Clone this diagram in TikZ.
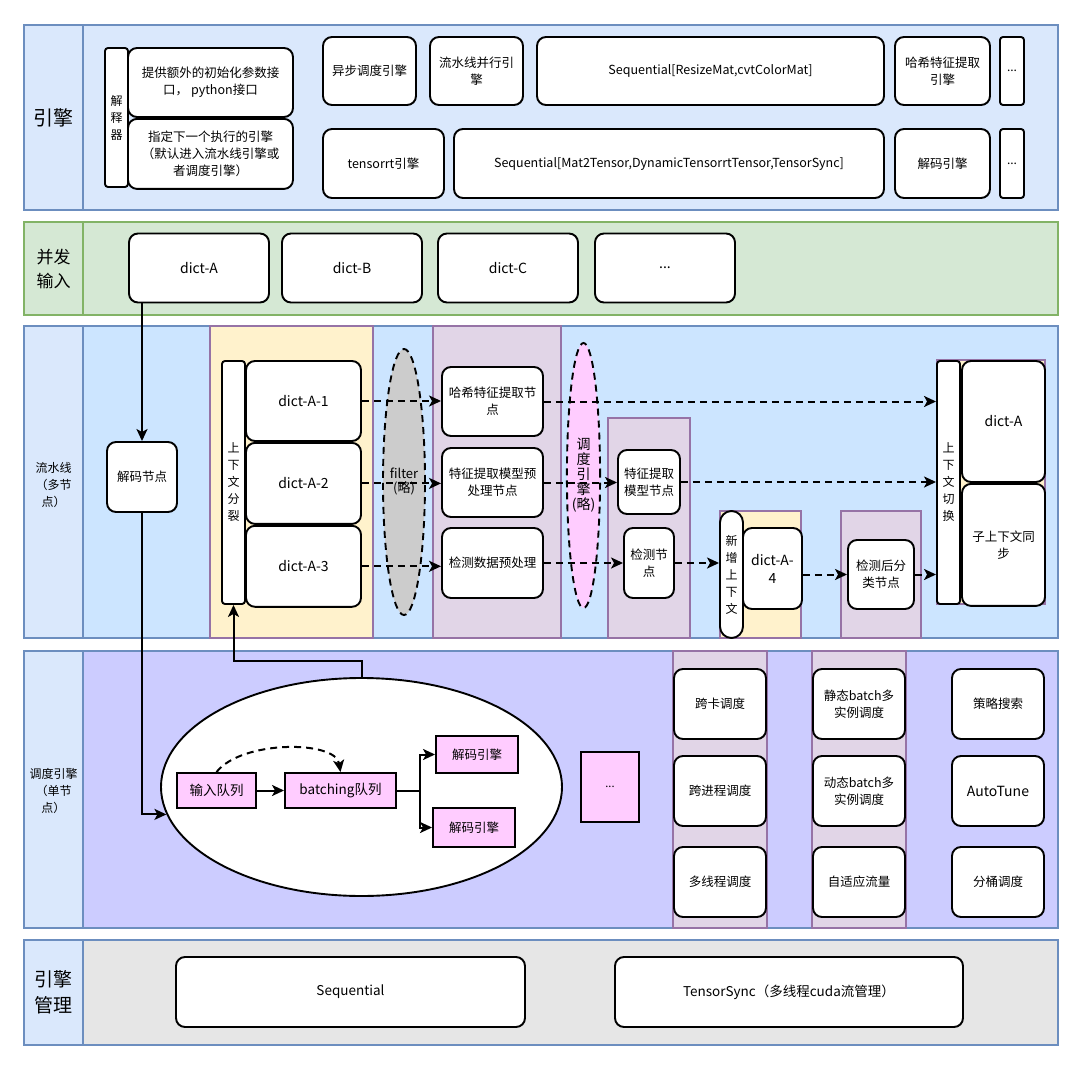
\documentclass[tikz,border=0pt]{standalone}
\usepackage{fontspec}
\setmainfont{Noto Sans CJK SC}
\usetikzlibrary{arrows.meta, positioning, shapes.geometric}

\definecolor{laneblue}{HTML}{DAE8FC}
\definecolor{laneline}{HTML}{6C8EBF}
\definecolor{lanegreen}{HTML}{D5E8D4}
\definecolor{greenline}{HTML}{82B366}
\definecolor{pipeblue}{HTML}{CCE5FF}
\definecolor{schedviolet}{HTML}{CCCCFF}
\definecolor{mgrgray}{HTML}{E6E6E6}
\definecolor{ctxyellow}{HTML}{FFF2CC}
\definecolor{grpviolet}{HTML}{E1D5E7}
\definecolor{grpline}{HTML}{9673A6}
\definecolor{queuepink}{HTML}{FFCCFF}

\tikzset{
    lane/.style={
        draw=laneline,
        line width=1.8pt
    },
    group/.style={
        draw=grpline,
        line width=1.8pt
    },
    lanelabel/.style={
        align=center,
        inner sep=0pt
    },
    box/.style={
        rectangle,
        draw=black,
        line width=1.9pt,
        fill=white,
        rounded corners=9pt,
        align=center,
        inner sep=1pt,
        font=\fontsize{12.5}{17}\selectfont
    },
    bar/.style={
        box,
        rounded corners=3pt,
        minimum width=23pt,
        font=\fontsize{12}{17}\selectfont
    },
    dictbox/.style={
        box,
        font=\fontsize{14}{18}\selectfont
    },
    queue/.style={
        rectangle,
        draw=black,
        line width=1.9pt,
        fill=queuepink,
        align=center,
        inner sep=1pt,
        font=\fontsize{13.5}{17}\selectfont
    },
    blob/.style={
        ellipse,
        draw=black,
        line width=1.9pt,
        align=center,
        inner sep=0pt
    },
    dashy/.style={dash pattern=on 7pt off 5pt},
    arrow/.style={-{Stealth[length=12pt, width=11pt, inset=3pt]}, line width=2pt},
    dashedarrow/.style={arrow, dashy}
}

\begin{document}
\begin{tikzpicture}[x=1pt, y=-1pt]
\useasboundingbox (0,0) rectangle (1080,1068);

% lanes
\draw[lane, fill=laneblue] (24,25) rectangle (1058,210);
\draw[lane] (83,25) -- (83,210);
\draw[lane, draw=greenline, fill=lanegreen] (24,222) rectangle (1058,315);
\draw[lane, draw=greenline] (83,222) -- (83,315);
\draw[lane, fill=laneblue] (24,326) rectangle (83,638);
\draw[lane, fill=pipeblue] (83,326) rectangle (1058,638);
\draw[lane, fill=laneblue] (24,651) rectangle (83,928);
\draw[lane, fill=schedviolet] (83,651) rectangle (1058,928);
\draw[lane, fill=laneblue] (24,940) rectangle (83,1045);
\draw[lane, fill=mgrgray] (83,940) rectangle (1058,1045);

\node[lanelabel, font=\fontsize{20}{26}\selectfont] (lbEngine) at (53.5,117.5) {引擎};
\node[lanelabel, font=\fontsize{17}{24}\selectfont] (lbInput) at (53.5,268.5) {并发\\输入};
\node[lanelabel, font=\fontsize{12}{17}\selectfont] (lbPipe) at (53.5,485) {流水线\\（多节\\点）};
\node[lanelabel, font=\fontsize{12}{17}\selectfont] (lbSched) at (53.5,791) {调度引擎\\（单节\\点）};
\node[lanelabel, font=\fontsize{19}{26}\selectfont] (lbMgr) at (53.5,992) {引擎\\管理};

% groups
\draw[group, fill=ctxyellow] (210,326) rectangle (373,638);
\draw[group, fill=grpviolet] (433,326) rectangle (561,638);
\draw[group, fill=grpviolet] (608,418) rectangle (690,638);
\draw[group, fill=ctxyellow] (720,511) rectangle (801,638);
\draw[group, fill=grpviolet] (841,511) rectangle (921,638);
\draw[group, fill=ctxyellow] (937,360) rectangle (1045,604);
\draw[group, fill=grpviolet] (673,651) rectangle (767,928);
\draw[group, fill=grpviolet] (812,651) rectangle (906,928);

% engines
\node[bar, minimum height=139pt] (interp) at (116.5,117.5) {解\\释\\器};
\node[box, minimum width=165pt, minimum height=69pt] (initp) at (210.5,82.5) {提供额外的初始化参数接\\口，\ python接口};
\node[box, minimum width=165pt, minimum height=70pt, below=0pt of initp] (nexte) {指定下一个执行的引擎\\（默认进入流水线引擎或\\者调度引擎）};
\node[box, minimum width=93pt, minimum height=68pt] (async) at (369.5,71) {异步调度引擎};
\node[box, minimum width=93pt, minimum height=68pt] (pipe) at (476.5,71) {流水线并行引\\擎};
\node[box, minimum width=347pt, minimum height=68pt] (seq1) at (710.5,71) {Sequential[ResizeMat,cvtColorMat]};
\node[box, minimum width=95pt, minimum height=68pt] (hashe) at (942.5,71) {哈希特征提取\\引擎};
\node[bar, minimum width=24pt, minimum height=68pt] (more1) at (1012,71) {...};
\node[box, minimum width=121pt, minimum height=69pt] (trt) at (383.5,163.5) {tensorrt引擎};
\node[box, minimum width=430pt, minimum height=69pt] (seq2) at (669,163.5) {Sequential[Mat2Tensor,DynamicTensorrtTensor,TensorSync]};
\node[box, minimum width=95pt, minimum height=69pt] (dece) at (942.5,163.5) {解码引擎};
\node[bar, minimum width=24pt, minimum height=69pt] (more2) at (1012,163.5) {...};

% inputs
\node[dictbox, minimum width=140pt, minimum height=69pt] (dictA) at (199,268) {dict-A};
\node[dictbox, minimum width=140pt, minimum height=69pt] (dictB) at (352,268) {dict-B};
\node[dictbox, minimum width=140pt, minimum height=69pt] (dictC) at (508,268) {dict-C};
\node[dictbox, minimum width=140pt, minimum height=69pt] (dictM) at (665,268) {...};

% pipeline
\node[box, minimum width=70pt, minimum height=70pt] (decn) at (142,477) {解码节点};
\node[bar, minimum height=243pt] (split) at (233.5,482.5) {上\\下\\文\\分\\裂};
\node[dictbox, minimum width=115pt, minimum height=80pt] (a1) at (303.5,401) {dict-A-1};
\node[dictbox, minimum width=115pt, minimum height=81pt, below=0pt of a1] (a2) {dict-A-2};
\node[dictbox, minimum width=115pt, minimum height=81pt, below=0pt of a2] (a3) {dict-A-3};
\node[blob, dashy, fill=gray!40, minimum width=42pt, minimum height=266pt, font=\fontsize{13}{14}\selectfont] (filter) at (404,482) {filter\\(略)};
\node[box, minimum width=101pt, minimum height=69pt] (hashn) at (492.5,401.5) {哈希特征提取节\\点};
\node[box, minimum width=101pt, minimum height=69pt] (prep) at (492.5,482.5) {特征提取模型预\\处理节点};
\node[box, minimum width=101pt, minimum height=70pt] (detp) at (492.5,563) {检测数据预处理};
\node[blob, dashy, fill=queuepink, minimum width=29pt, minimum height=265pt, font=\fontsize{14}{15}\selectfont] (schd) at (583.5,475.5) {调\\度\\引\\擎\\(略)};
\node[box, minimum width=62pt, minimum height=64pt] (featn) at (649,482) {特征提取\\模型节点};
\node[box, minimum width=50pt, minimum height=70pt] (detn) at (649,563) {检测节\\点};
\node[bar, rounded corners=11.5pt, minimum height=127pt] (newc) at (731.5,574.5) {新\\增\\上\\下\\文};
\node[dictbox, minimum width=59pt, minimum height=81pt] (a4) at (772.5,568.5) {dict-A-\\4};
\node[box, minimum width=66pt, minimum height=69pt] (post) at (881,574.5) {检测后分\\类节点};
\node[bar, minimum height=243pt] (swc) at (948.5,482.5) {上\\下\\文\\切\\换};
\node[dictbox, minimum width=83pt, minimum height=121pt] (dA) at (1003.5,421.5) {dict-A};
\node[box, minimum width=83pt, minimum height=122pt, below=0pt of dA] (sync) {子上下文同\\步};

% scheduler
\node[blob, fill=white, minimum width=401pt, minimum height=218pt] (sch) at (361.5,787) {};
\node[queue, minimum width=79pt, minimum height=35pt] (inq) at (216.5,790.5) {输入队列};
\node[queue, minimum width=111pt, minimum height=35pt] (batq) at (340.5,790.5) {batching队列};
\node[queue, minimum width=82pt, minimum height=37pt, font=\fontsize{12.5}{17}\selectfont] (dec1) at (477,754.5) {解码引擎};
\node[queue, minimum width=82pt, minimum height=39pt, font=\fontsize{12.5}{17}\selectfont] (dec2) at (474,827.5) {解码引擎};
\node[queue, minimum width=58pt, minimum height=70pt, font=\fontsize{11}{14}\selectfont] (qmore) at (610,787) {...};

\node[box, minimum width=92pt, minimum height=70pt] (xcard) at (720,704) {跨卡调度};
\node[box, minimum width=92pt, minimum height=70pt] (xproc) at (720,791) {跨进程调度};
\node[box, minimum width=92pt, minimum height=70pt] (mthr) at (720,882) {多线程调度};
\node[box, minimum width=92pt, minimum height=70pt] (sbatch) at (859,704) {静态batch多\\实例调度};
\node[box, minimum width=92pt, minimum height=70pt] (dbatch) at (859,791) {动态batch多\\实例调度};
\node[box, minimum width=92pt, minimum height=70pt] (aflow) at (859,882) {自适应流量};
\node[box, minimum width=92pt, minimum height=70pt] (search) at (998,704) {策略搜索};
\node[box, minimum width=92pt, minimum height=70pt, font=\fontsize{14}{17}\selectfont] (tune) at (998,791) {AutoTune};
\node[box, minimum width=92pt, minimum height=70pt] (bucket) at (998,882) {分桶调度};

% engine management
\node[box, minimum width=349pt, minimum height=70pt, font=\fontsize{13.5}{17}\selectfont] (seqm) at (350.5,992) {Sequential};
\node[box, minimum width=348pt, minimum height=70pt, font=\fontsize{13.5}{17}\selectfont] (tsync) at (789,992) {TensorSync（多线程cuda流管理）};

% connectors
\draw[arrow] (dictA.south -| decn.north) -- (decn.north);
\draw[arrow] (decn.south) |- (sch.188);
\draw[arrow] (sch.north) -- ++(0,-16) -| (split.south);

\draw[dashedarrow] (a1.east) -- (a1.east -| hashn.west);
\draw[dashedarrow] (a2.east) -- (a2.east -| prep.west);
\draw[dashedarrow] (a3.east) -- (a3.east -| detp.west);
\draw[dashedarrow] (hashn.east) -- (hashn.east -| swc.west);
\draw[dashedarrow] (prep.east) -- (prep.east -| featn.west);
\draw[dashedarrow] (featn.east) -- (featn.east -| swc.west);
\draw[dashedarrow] (detp.east) -- (detp.east -| detn.west);
\draw[dashedarrow] (detn.east) -- (detn.east -| newc.west);
\draw[dashedarrow] (post.west -| a4.east) -- (post.west);
\draw[dashedarrow] (post.east) -- (post.east -| swc.west);

\draw[arrow] (inq) -- (batq);
\draw[dashedarrow] (inq.north) .. controls +(25,-32) and +(-5,-32) .. (batq.north);
\draw[arrow] (batq.east) -- ++(23,0) |- (dec1);
\draw[arrow] (batq.east) -- ++(23,0) |- (dec2);

\end{tikzpicture}
\end{document}
